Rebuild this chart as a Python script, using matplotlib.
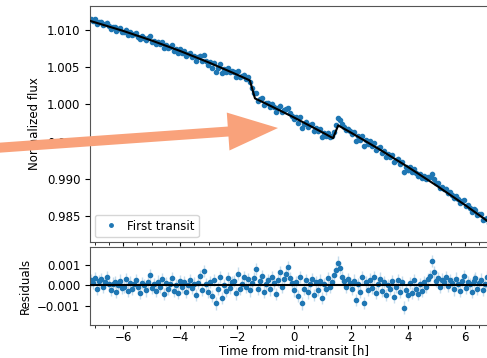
import numpy as np
import matplotlib
matplotlib.use("Agg")
import matplotlib.pyplot as plt
from matplotlib.lines import Line2D
from matplotlib.patches import FancyArrow
from matplotlib.ticker import AutoMinorLocator
from matplotlib.transforms import IdentityTransform

# time grid of the light curve [h], regular cadence
time_h = np.linspace(-7.14, 7.14, 205)

# normalized flux, stored as ppm offset from 1.0
flux_ppm = [
    11460, 11260, 11440, 10830, 11100, 11140, 10660, 10820, 11000, 10560,
    10200, 10430, 10430, 9860, 10120, 10240, 9800, 9770, 10070, 9400,
    9710, 9300, 9440, 9580, 9120, 8770, 9150, 8950, 8600, 8910,
    9170, 8430, 8530, 8090, 8460, 8120, 8380, 7560, 7990, 7610,
    7760, 7960, 7230, 7420, 6900, 7400, 6980, 7140, 6550, 6760,
    6910, 6410, 6530, 5870, 6360, 6570, 5810, 6620, 5850, 5350,
    5740, 4930, 5620, 4350, 4960, 5410, 4260, 4800, 4390, 4890,
    4310, 4460, 4410, 3670, 4520, 3640, 3790, 4010, 3390, 3640,
    2970, 2270, 1570, 1560, 450, 700, 830, -100, 190, 260,
    -340, 110, -290, -970, -430, -170, -1020, -760, -650, -460,
    -1130, -1490, -1990, -1720, -2530, -1740, -3180, -2590, -2300, -3060,
    -2770, -2670, -3610, -3140, -3630, -3330, -4330, -3800, -4190, -3780,
    -4390, -4260, -3730, -2800, -1790, -2090, -2670, -3040, -3460, -3240,
    -3580, -4020, -3770, -4890, -4270, -4810, -4240, -5630, -4770, -5310,
    -4970, -5540, -5170, -6120, -5820, -5720, -6490, -6220, -7000, -6690,
    -7060, -6830, -7760, -7470, -7280, -8030, -7730, -9130, -8460, -8860,
    -8430, -9110, -8650, -9230, -9660, -9360, -9860, -9590, -10030, -9800,
    -9810, -9290, -10010, -10600, -10620, -11260, -11070, -11390, -11310, -11940,
    -11830, -12140, -12640, -12300, -12730, -13270, -12970, -12910, -13680, -13570,
    -13880, -14440, -14080, -14130, -14850, -14770, -14790, -15490, -15390, -15250,
    -15940, -15830, -16090, -16620, -16320,
]

# residuals (data - model) in ppm
resid_ppm = [
    250, 120, 380, -150, 200, 310, -80, 150, 420, 60,
    -220, 90, 180, -310, 30, 240, -120, -60, 330, -260,
    140, -180, 50, 280, -90, -350, 120, 20, -240, 160,
    520, -130, 70, -280, 190, -60, 300, -420, 110, -170,
    80, 380, -250, 40, -380, 220, -90, 170, -310, 0,
    260, -140, 90, -460, 130, 450, -200, 720, 60, -330,
    180, -520, 280, -880, -150, 410, -620, 30, -260, 350,
    -110, 160, 230, -390, 580, -180, 90, 430, -70, 310,
    -240, 120, 360, 820, -160, 210, 470, -330, 90, 280,
    -190, 390, 120, -420, 250, 640, -80, 310, 560, 880,
    350, 120, -240, 170, -510, 420, -880, -150, 280, -340,
    90, 330, -470, 150, -200, 240, -610, 60, -180, 380,
    -90, 190, 520, 780, 1120, 860, 430, 210, -60, 310,
    120, -160, 240, -720, 50, -330, 390, -840, 180, -210,
    290, -120, 410, -380, 80, 340, -260, 170, -450, 30,
    -180, 220, -550, -90, 260, -320, 150, -1080, -240, -470,
    130, -380, 250, -160, -420, 60, -270, 180, -90, 320,
    480, 1180, 640, 220, 380, -80, 290, 150, 410, -40,
    260, 130, -190, 340, 90, -260, 220, 470, -120, 180,
    60, -310, 240, 380, -150, 120, 290, -220, 70, 410,
    -90, 220, 150, -180, 310,
]

flux_err = 0.0003

# transit model (trend + box with short ingress/egress), knots
model_t = [-7.14, -6, -5, -4, -3, -2, -1.55, -1.37, -1, 0, 1, 1.37, 1.55, 2, 3, 4, 5, 6, 7.14]
model_ppm = [11214, 9890, 8600, 7190, 5660, 4010, 3229, 809, 140, -1750, -3760, -4534,
             -2817, -3790, -6040, -8410, -10900, -13510, -16632]

flux = 1 + np.array(flux_ppm) * 1e-6
resid = np.array(resid_ppm) * 1e-6
model_f = 1 + np.array(model_ppm) * 1e-6

plt.rcParams["font.size"] = 8.5

fig = plt.figure(figsize=(4.87, 3.58), dpi=100)
ax = fig.add_axes([0.1848, 0.324, 0.8378, 0.6592])
axr = fig.add_axes([0.1848, 0.0922, 0.8378, 0.2179], sharex=ax)

c = "#1f77b4"
ax.errorbar(time_h, flux, yerr=flux_err, fmt="o", ms=3, color=c,
            ecolor=c, elinewidth=1)
ax.plot(model_t, model_f, color="black", lw=1.5, zorder=5)
ax.set_ylabel("Normalized flux")
ax.set_ylim(0.98151, 1.01323)
ax.set_xlim(-7.16, 7.16)
ax.set_yticks([0.985, 0.990, 0.995, 1.000, 1.005, 1.010])
ax.tick_params(labelbottom=False)
handle = Line2D([], [], ls="none", marker="o", ms=2.5, color=c)
ax.legend([handle], ["First transit"], loc="lower left",
          borderaxespad=0.4, handletextpad=0.3)

axr.errorbar(time_h, resid, yerr=flux_err, fmt="o", ms=3, color=c,
             ecolor=c, elinewidth=1)
axr.axhline(0, color="black", lw=1.5, zorder=5)
axr.set_ylim(-0.00193, 0.00188)
axr.set_yticks([-0.001, 0.0, 0.001])
axr.set_ylabel("Residuals")
axr.set_xlabel("Time from mid-transit [h]", labelpad=0)

# fade error bars so they read as a light halo
for a in (ax, axr):
    for coll in a.collections:
        coll.set_alpha(0.25)
    a.xaxis.set_minor_locator(AutoMinorLocator(4))
    a.tick_params(axis="x", which="major", length=3, pad=1.5)
    a.tick_params(axis="x", which="minor", length=2)
    for s in a.spines.values():
        s.set_color("#555555")

# big orange pointer drawn on top of the figure (pixel coordinates)
arrow = FancyArrow(-5, 210, 283, 20, width=10, head_width=38, head_length=50,
                   length_includes_head=True, color="#f9a27b", lw=0,
                   transform=IdentityTransform())
fig.patches.append(arrow)

fig.savefig("out.png", dpi=100)
